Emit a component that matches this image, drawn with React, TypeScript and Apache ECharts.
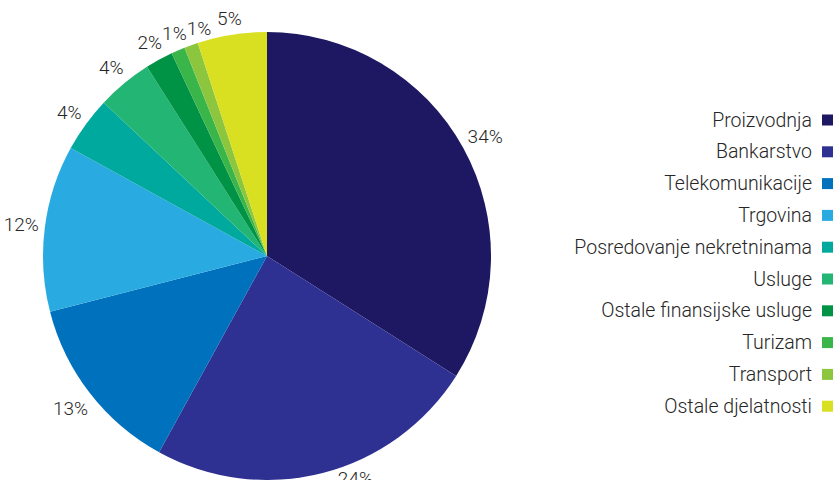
import React, { useEffect, useRef } from "react";
import * as echarts from "echarts";

const categories = [
  "Proizvodnja",
  "Bankarstvo",
  "Telekomunikacije",
  "Trgovina",
  "Posredovanje nekretninama",
  "Usluge",
  "Ostale finansijske usluge",
  "Turizam",
  "Transport",
  "Ostale djelatnosti",
];
const values = [34, 24, 13, 12, 4, 4, 2, 1, 1, 5];
const colors = [
  "#1e1761",
  "#2e3192",
  "#0071bc",
  "#29abe2",
  "#00a99d",
  "#22b573",
  "#009245",
  "#39b54a",
  "#8cc63f",
  "#d9e021",
];

const W = 835;
const H = 480;
const CX = 267;
const CY = 256;
const R = 224;
const GAP = 5;

export default function App() {
  const ref = useRef<HTMLDivElement>(null);
  useEffect(() => {
    if (!ref.current) return;
    const chart = echarts.init(ref.current, undefined, { renderer: "svg" });
    const font = "Roboto";
    const total = values.reduce((a, b) => a + b, 0);
    const mids: number[] = [];
    let cum = 0;
    values.forEach((v) => {
      mids.push(((cum + v / 2) / total) * Math.PI * 2);
      cum += v;
    });
    chart.setOption({
      animation: false,
      color: colors,
      legend: {
        orient: "vertical",
        right: 2,
        top: 110,
        padding: 0,
        align: "right",
        icon: "rect",
        itemWidth: 11,
        itemHeight: 11,
        itemGap: 11.8,
        textStyle: {
          fontFamily: font,
          fontWeight: 300,
          fontSize: 19.5,
          lineHeight: 19,
          height: 19,
          color: "#262626",
          padding: [0, 5, 0, 0],
        },
        data: categories,
      },
      series: [
        {
          type: "pie",
          center: [CX, CY],
          radius: R,
          startAngle: 90,
          clockwise: true,
          avoidLabelOverlap: false,
          label: {
            show: true,
            position: "outside",
            formatter: "{c}%",
            fontFamily: font,
            fontWeight: 300,
            fontSize: 19,
            color: "#262626",
            overflow: "none",
          },
          labelLine: { show: false, length: 8, length2: 0 },
          labelLayout: (p: any) => {
            const th = mids[p.dataIndex];
            const s = Math.sin(th);
            const c = -Math.cos(th);
            const w = p.labelRect.width;
            const h = p.labelRect.height;
            const support = Math.abs(s) * (w / 2) + Math.abs(c) * (h / 2);
            const d = R + GAP + support;
            let x = CX + s * d;
            let y = CY + c * d;
            const maxY = H - 2;
            if (y > maxY) {
              y = maxY;
              const top = y - h / 2 - CY;
              const dx = Math.sqrt(Math.max(0, R * R - top * top));
              x = s >= 0 ? CX + dx + w / 2 : CX - dx - w / 2;
            }
            const res: any = { x, y, align: "center", verticalAlign: "middle" };
            if (c < -0.85) res.moveOverlap = "shiftX";
            return res;
          },
          itemStyle: { borderWidth: 0 },
          emphasis: { disabled: true },
          data: categories.map((name, i) => ({ name, value: values[i] })),
        },
      ],
    });
    return () => chart.dispose();
  }, []);
  return (
    <div
      ref={ref}
      style={{ position: "absolute", left: 0, top: 0, width: W, height: H }}
    />
  );
}
